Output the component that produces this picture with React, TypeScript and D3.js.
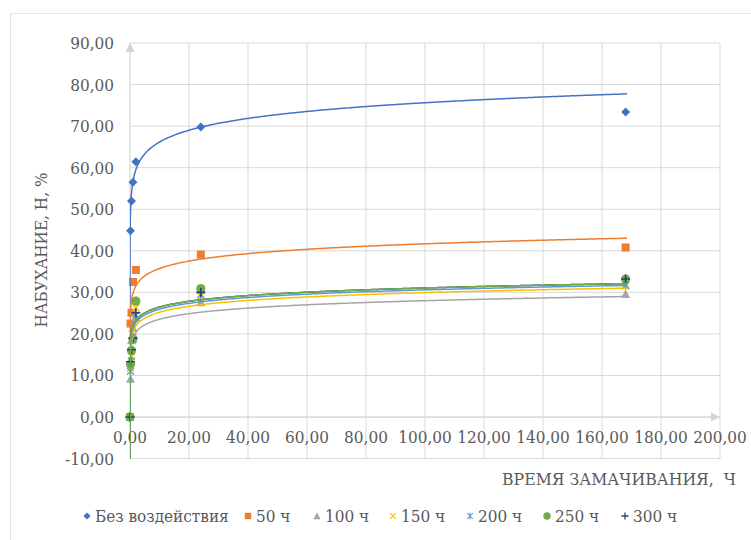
import React from 'react';
import * as d3 from 'd3';

// ---- data ----
const times = [0, 0.17, 0.5, 1, 2, 24, 168];
const seriesNames = ['Без воздействия', '50 ч', '100 ч', '150 ч', '200 ч', '250 ч', '300 ч'];
const valuesNone = [0, 44.8, 52.0, 56.5, 61.4, 69.8, 73.4];
const values50 = [0, 22.5, 25.1, 32.5, 35.4, 39.1, 40.8];
const values100 = [0, 9.2, 18.5, 21.5, 24.0, 27.6, 29.6];
const values150 = [0, 11.8, 14.5, 19.2, 26.3, 29.0, 32.0];
const values200 = [0, 11.0, 13.5, 18.7, 24.5, 29.5, 31.6];
const values250 = [0, 12.7, 16.0, 18.8, 27.9, 30.9, 33.2];
const values300 = [0, 13.3, 16.2, 19.0, 25.1, 30.0, 33.2];
// logarithmic trendlines: y = a * ln(x) + b
const trendA = [4.11, 2.58, 1.94, 2.05, 2.02, 2.0, 2.0];
const trendB = [56.7, 29.8, 19.06, 20.5, 21.3, 21.85, 21.85];
const xTicks = [0, 20, 40, 60, 80, 100, 120, 140, 160, 180, 200];
const yTicks = [-10, 0, 10, 20, 30, 40, 50, 60, 70, 80, 90];
const xTitle = 'ВРЕМЯ ЗАМАЧИВАНИЯ,  Ч';
const yTitle = 'НАБУХАНИЕ, Н, %';

const allValues = [valuesNone, values50, values100, values150, values200, values250, values300];
const colors = ['#4472C4', '#ED7D31', '#A5A5A5', '#FFC000', '#5B9BD5', '#70AD47', '#264478'];
const markerKinds = ['diamond', 'square', 'triangle', 'x', 'star', 'circle', 'plus'];
const trendOrder = [0, 1, 2, 3, 6, 4, 5];

const W = 751;
const H = 540;
const FONT = "'DejaVu Serif Condensed', 'DejaVu Serif', serif";
const TEXT = '#595959';
const GRID = '#d9d9d9';

const fmt = (v: number) => d3.format('.2f')(v).replace('.', ',').replace('−', '-');

function Marker({ kind, color, x, y, s = 1 }: { kind: string; color: string; x: number; y: number; s?: number }) {
  const t = `translate(${x},${y}) scale(${s})`;
  switch (kind) {
    case 'diamond':
      return <path transform={t} d="M0,-4.5L4.5,0L0,4.5L-4.5,0Z" fill={color} />;
    case 'square':
      return <rect transform={t} x={-4} y={-4} width={8} height={8} fill={color} />;
    case 'triangle':
      return <path transform={t} d="M0,-4.5L4.5,4L-4.5,4Z" fill={color} />;
    case 'x':
      return <path transform={t} d="M-3.5,-3.5L3.5,3.5M-3.5,3.5L3.5,-3.5" stroke={color} strokeWidth={1.5} fill="none" />;
    case 'star':
      return <path transform={t} d="M-3.5,-3.5L3.5,3.5M-3.5,3.5L3.5,-3.5M0,-4.5L0,4.5" stroke={color} strokeWidth={1.3} fill="none" />;
    case 'circle':
      return <circle transform={t} r={4.6} fill={color} />;
    case 'plus':
      return <path transform={t} d="M-4.5,0L4.5,0M0,-4.5L0,4.5" stroke={color} strokeWidth={1.6} fill="none" />;
    default:
      return null;
  }
}

export default function App() {
  const x = d3.scaleLinear().domain([0, 200]).range([130, 720]);
  const y = d3.scaleLinear().domain([-10, 90]).range([458.6, 43]);

  const tSmall = d3.range(0, 101).map((i) => Math.pow(10, -10 + (i / 100) * 10));
  const tBig = d3.range(1, 169, 0.5);
  const tSamples = [...tSmall, ...tBig, 168];

  const line = d3
    .line<number[]>()
    .x((d) => x(d[0]))
    .y((d) => y(d[1]))
    .curve(d3.curveLinear);

  const legendX = [87, 248, 317, 393, 470, 547, 625];
  const legendY = 516;
  const txt = { fontFamily: FONT, fill: TEXT } as React.CSSProperties;

  return (
    <svg
      width={W}
      height={H}
      style={{ position: 'absolute', left: 0, top: 0, background: '#fff', fontFamily: FONT }}
    >
      <rect x={10.5} y={13.5} width={800} height={600} fill="#fff" stroke="#e6e6e6" strokeWidth={1} />
      <defs>
        <clipPath id="plotClip">
          <rect x={x(0)} y={y(90)} width={x(200) - x(0)} height={y(-10) - y(90)} />
        </clipPath>
      </defs>

      {yTicks.map((v) => (
        <line key={'gy' + v} x1={x(0)} x2={x(200)} y1={y(v)} y2={y(v)} stroke={GRID} strokeWidth={1} />
      ))}
      {xTicks.filter((v) => v > 0).map((v) => (
        <line key={'gx' + v} x1={x(v)} x2={x(v)} y1={y(90)} y2={y(-10)} stroke={GRID} strokeWidth={1} />
      ))}
      <line x1={x(0)} x2={x(0)} y1={y(-10)} y2={y(90)} stroke={GRID} strokeWidth={1.3} />
      <path d={`M${x(0)},${y(90)}L${x(0) + 4.5},${y(90) + 9}L${x(0) - 4.5},${y(90) + 9}Z`} fill="#d4d4d4" />
      <line x1={x(0)} x2={x(200)} y1={y(0)} y2={y(0)} stroke={GRID} strokeWidth={1.3} />
      <path d={`M${x(200)},${y(0)}L${x(200) - 9},${y(0) - 4.5}L${x(200) - 9},${y(0) + 4.5}Z`} fill="#d4d4d4" />

      {yTicks.map((v) => (
        <text key={'ly' + v} x={114} y={y(v)} dy="0.35em" textAnchor="end" fontSize={17} style={txt}>
          {fmt(v)}
        </text>
      ))}
      {xTicks.map((v) => (
        <text key={'lx' + v} x={x(v)} y={y(0) + 26} textAnchor="middle" fontSize={17} style={txt}>
          {fmt(v)}
        </text>
      ))}

      <text transform={`translate(47,${250}) rotate(-90)`} textAnchor="middle" fontSize={17} style={txt}>
        {yTitle}
      </text>
      <text x={736} y={485} textAnchor="end" fontSize={17.5} style={{ ...txt, whiteSpace: 'pre' }}>
        {xTitle}
      </text>

      {allValues.map((vals, si) => (
        <g key={'m' + si}>
          {vals.map((v, i) => (
            <Marker key={i} kind={markerKinds[si]} color={colors[si]} x={x(times[i])} y={y(v)} />
          ))}
        </g>
      ))}

      <g clipPath="url(#plotClip)">
        {trendOrder.map((si) => (
          <path
            key={'t' + si}
            d={line(tSamples.map((t) => [t, trendA[si] * Math.log(t) + trendB[si]])) || ''}
            fill="none"
            stroke={colors[si]}
            strokeWidth={1.5}
          />
        ))}
      </g>

      {seriesNames.map((name, si) => (
        <g key={'lg' + si}>
          <Marker kind={markerKinds[si]} color={colors[si]} x={legendX[si]} y={legendY} s={0.8} />
          <text x={legendX[si] + 8} y={legendY} dy="0.35em" fontSize={17} style={txt}>
            {name}
          </text>
        </g>
      ))}
    </svg>
  );
}
